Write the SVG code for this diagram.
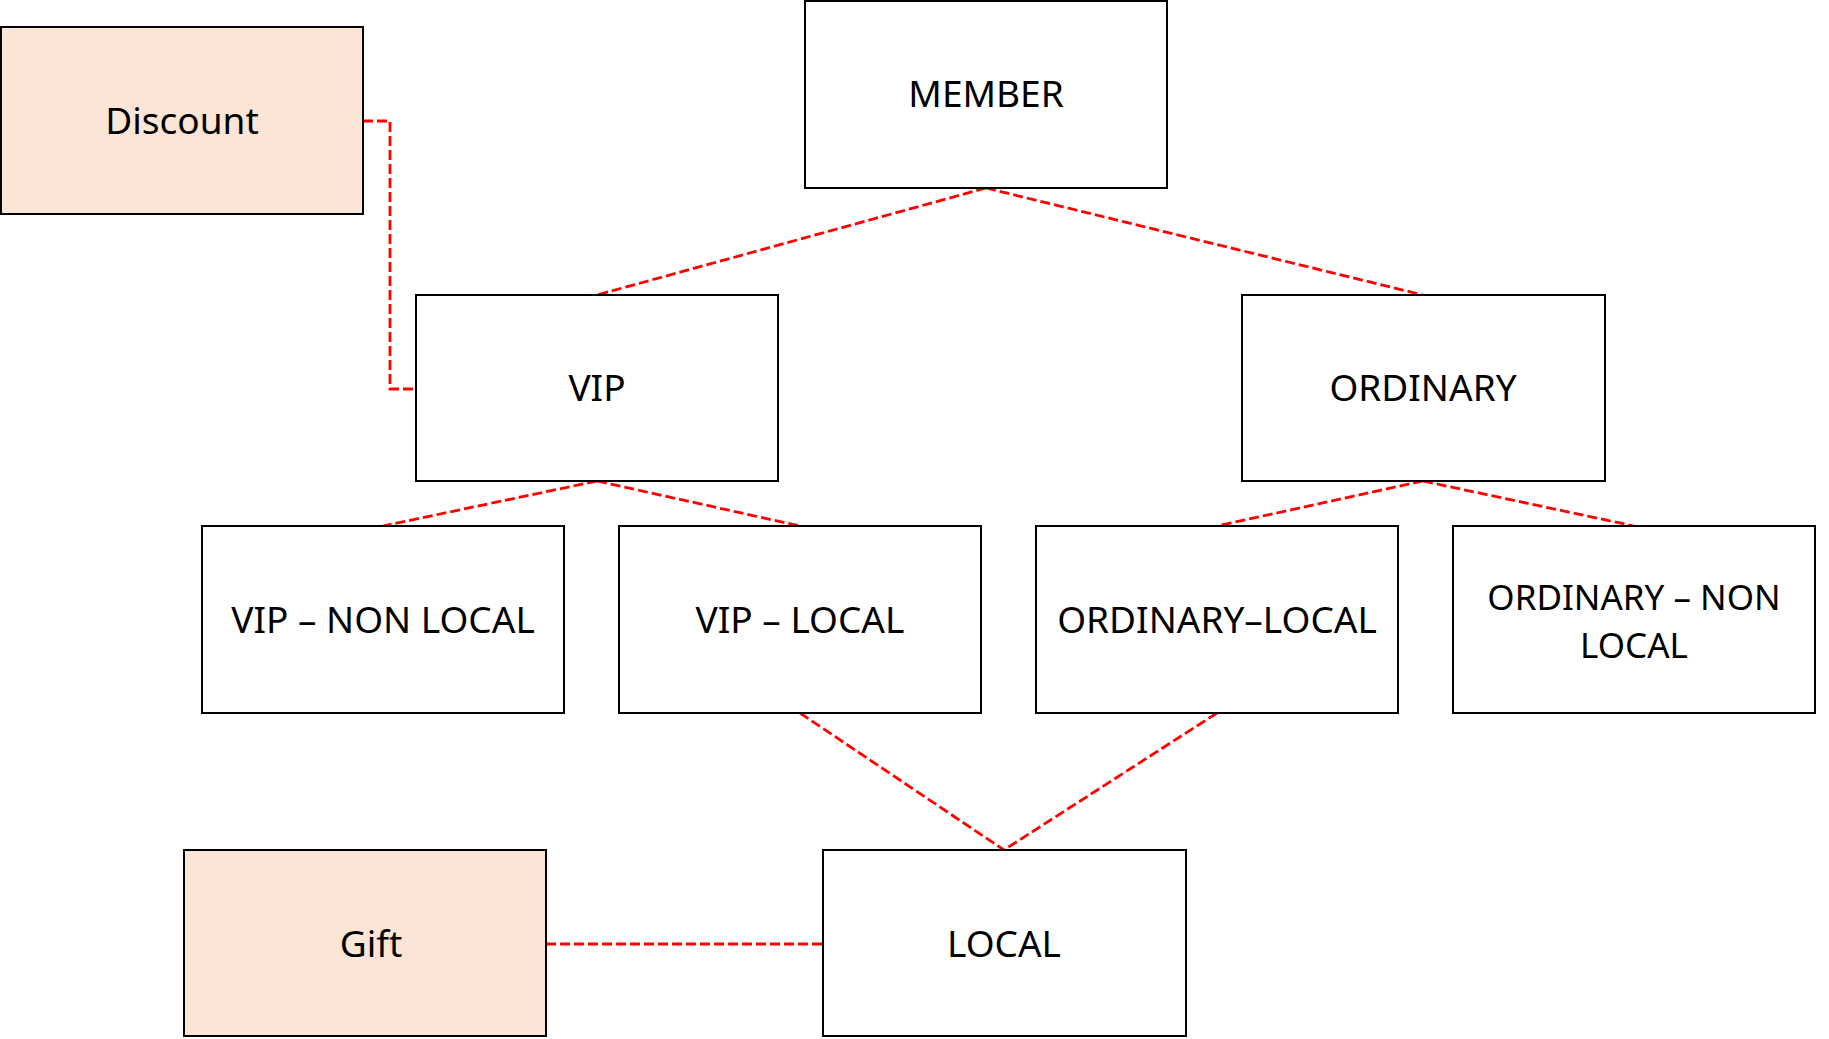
<svg xmlns="http://www.w3.org/2000/svg" width="1829" height="1039" viewBox="0 0 1829 1039">
<style>
.box{fill:#ffffff;stroke:#000000;stroke-width:2}
.accent{fill:#FBE5D6;stroke:#000000;stroke-width:2}
.lbl{font-family:"Noto Sans","Open Sans","Liberation Sans",sans-serif;font-size:37px;fill:#000000;text-anchor:middle}
.lbl2{font-size:35px}
.conn{fill:none;stroke:#FF0000;stroke-width:2.8;stroke-dasharray:10,4}
</style>
<rect width="1829" height="1039" fill="#ffffff"/>
<g id="connectors">
<path class="conn" d="M986,188 L597,295"/>
<path class="conn" d="M986,188 L1423,295"/>
<path class="conn" d="M597,481 L383,526"/>
<path class="conn" d="M597,481 L800,526"/>
<path class="conn" d="M1423,481 L1217,526"/>
<path class="conn" d="M1423,481 L1634,526"/>
<path class="conn" d="M800,713 L1004,850"/>
<path class="conn" d="M1217,713 L1004,850"/>
<path class="conn" d="M546,944 L823,944"/>
<path class="conn" d="M363,121 L390,121 L390,389 L416,389"/>
</g>
<g id="discount"><rect class="accent" x="1" y="27" width="362" height="187"/><text class="lbl" x="182" y="134">Discount</text></g>
<g id="member"><rect class="box" x="805" y="1" width="362" height="187"/><text class="lbl" x="986" y="107">MEMBER</text></g>
<g id="vip"><rect class="box" x="416" y="295" width="362" height="186"/><text class="lbl" x="597" y="401">VIP</text></g>
<g id="ordinary"><rect class="box" x="1242" y="295" width="363" height="186"/><text class="lbl" x="1423" y="401">ORDINARY</text></g>
<g id="vip-non-local"><rect class="box" x="202" y="526" width="362" height="187"/><text class="lbl" x="383" y="633">VIP – NON LOCAL</text></g>
<g id="vip-local"><rect class="box" x="619" y="526" width="362" height="187"/><text class="lbl" x="800" y="633">VIP – LOCAL</text></g>
<g id="ordinary-local"><rect class="box" x="1036" y="526" width="362" height="187"/><text class="lbl" x="1217" y="633">ORDINARY–LOCAL</text></g>
<g id="ordinary-non-local"><rect class="box" x="1453" y="526" width="362" height="187"/><text class="lbl lbl2" x="1634" y="610">ORDINARY – NON</text><text class="lbl lbl2" x="1634" y="658">LOCAL</text></g>
<g id="gift"><rect class="accent" x="184" y="850" width="362" height="186"/><text class="lbl" x="371" y="957">Gift</text></g>
<g id="local"><rect class="box" x="823" y="850" width="363" height="186"/><text class="lbl" x="1004" y="957">LOCAL</text></g>
</svg>
